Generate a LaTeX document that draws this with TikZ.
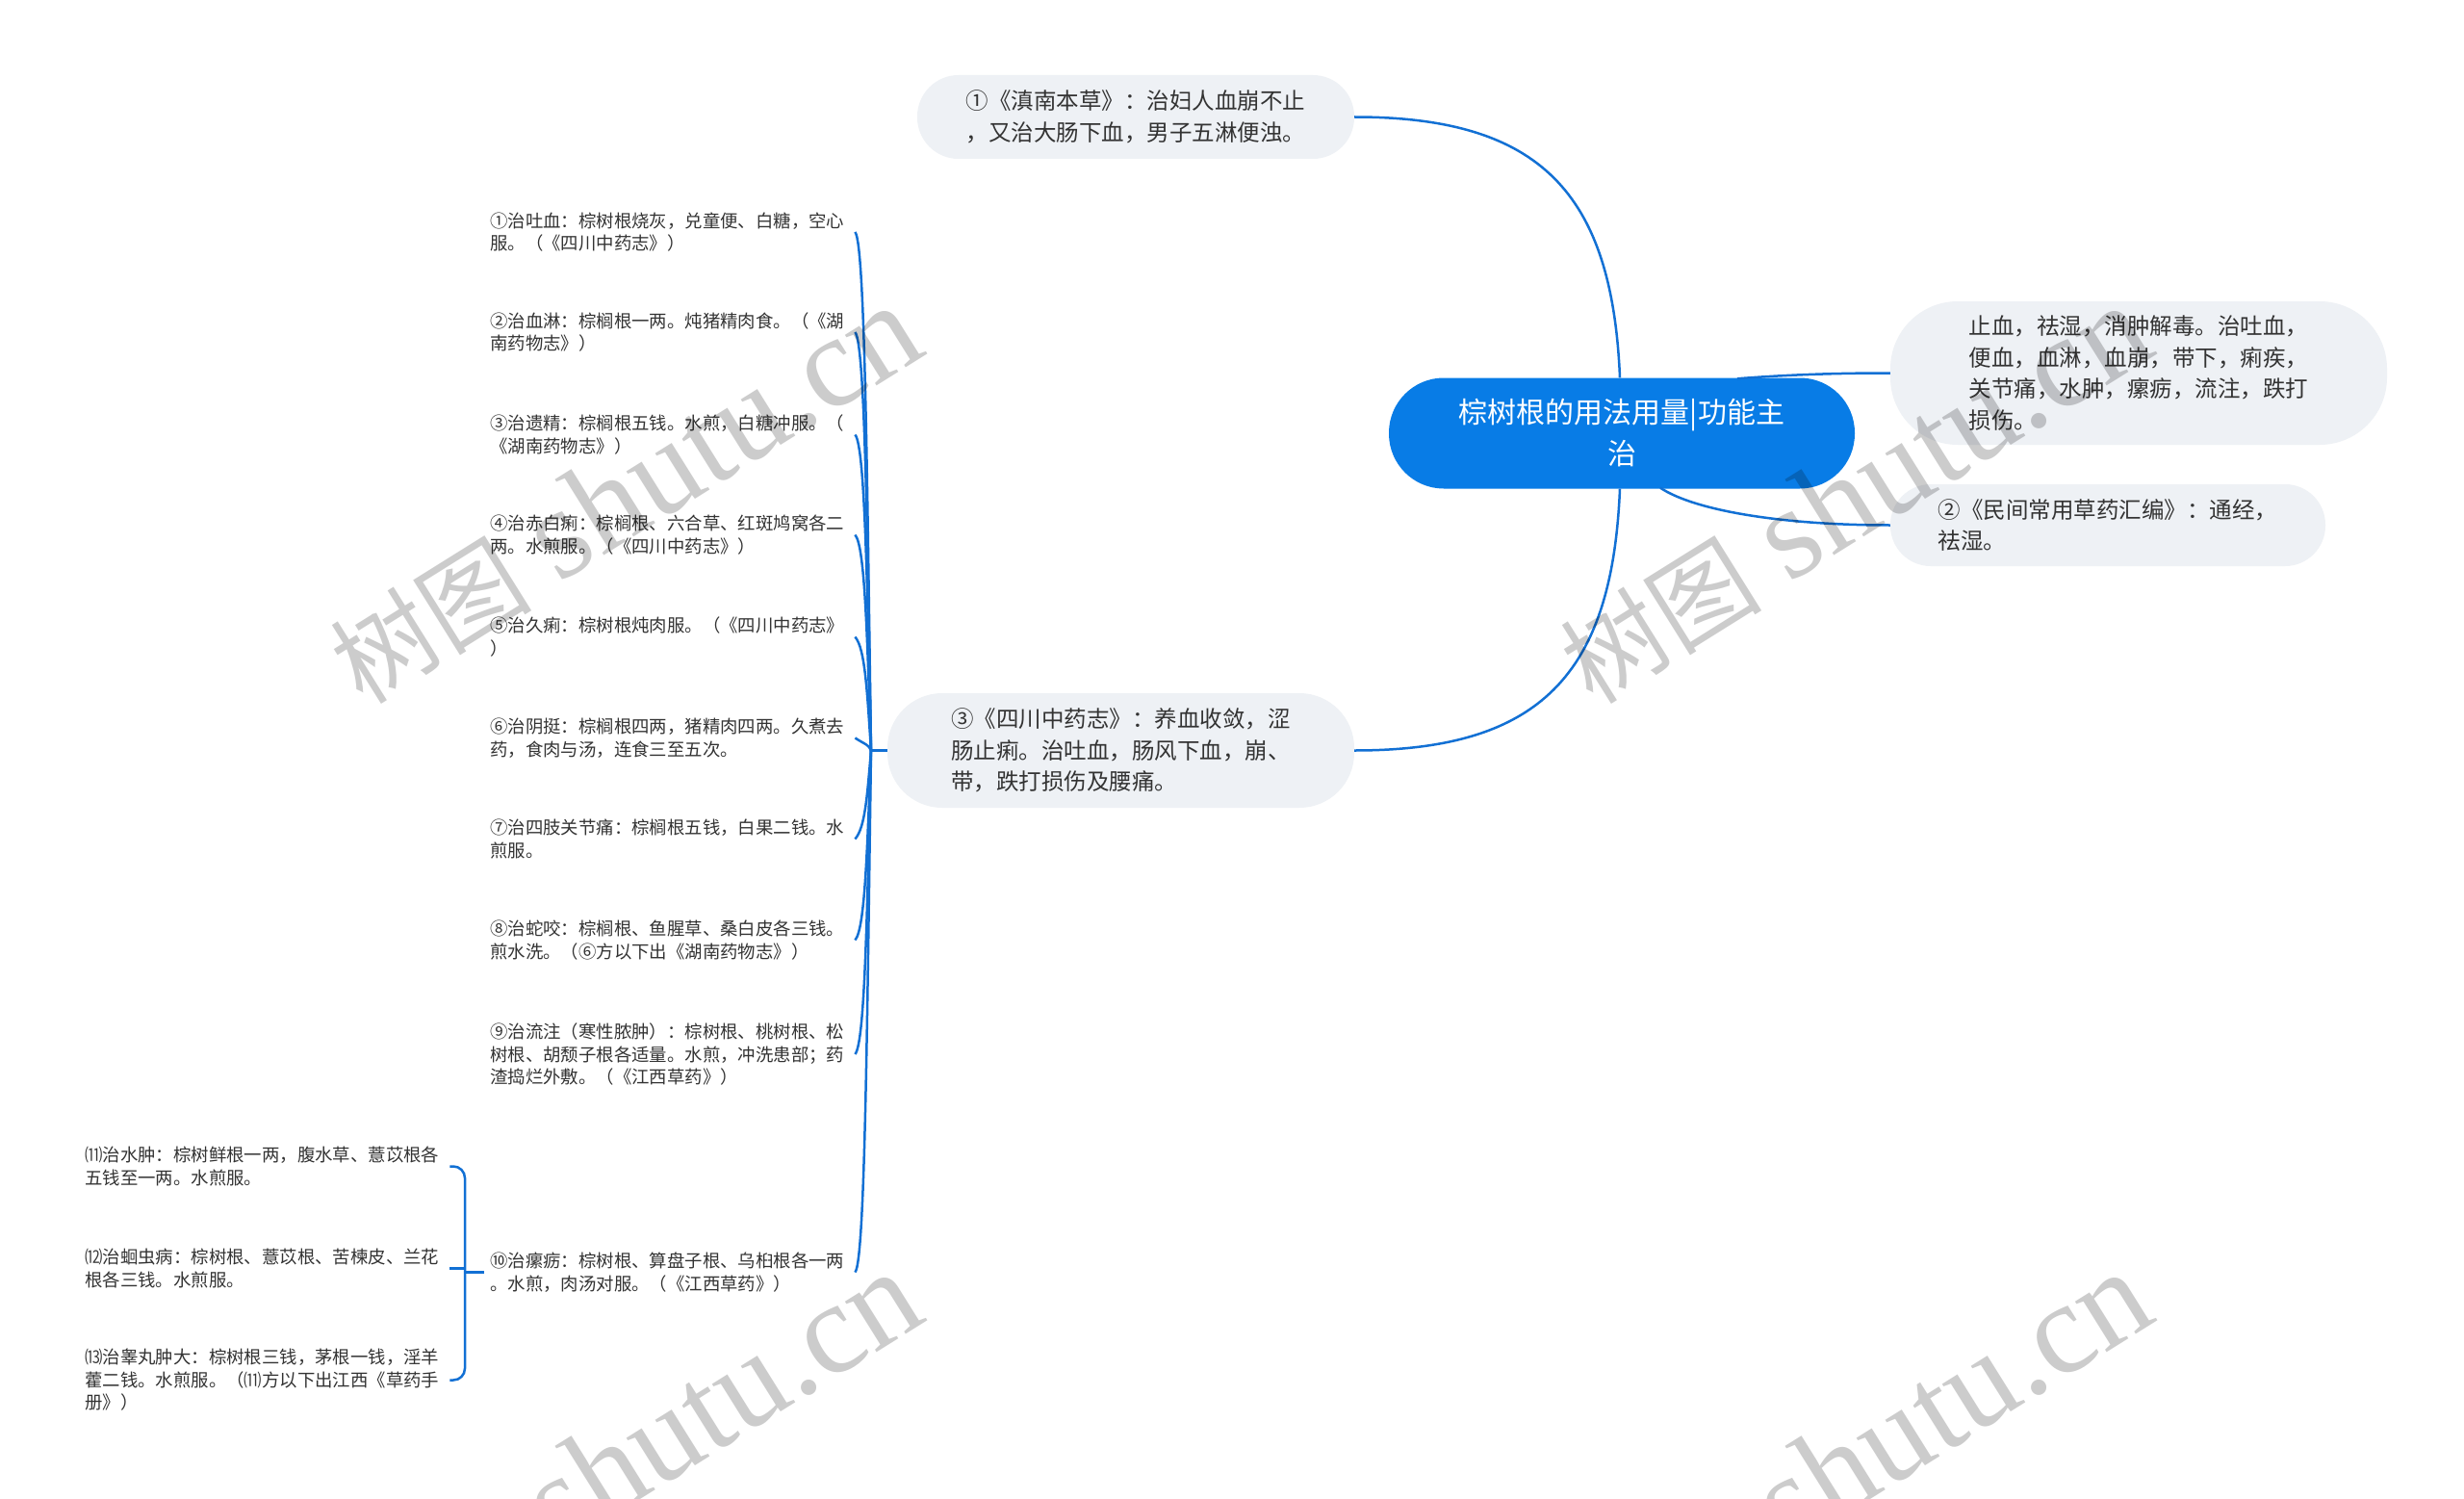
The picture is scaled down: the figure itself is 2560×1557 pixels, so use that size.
\documentclass[tikz,border=0pt]{standalone}
\usepackage{fontspec}
\setmainfont{Noto Sans CJK SC}
\newfontfamily\wmcjk{Noto Sans CJK SC}
\newfontfamily\wmlat{Liberation Serif}
\usetikzlibrary{calc}
\definecolor{linkblue}{RGB}{18,112,212}
\definecolor{rootblue}{RGB}{8,124,230}
\definecolor{boxgray}{RGB}{238,241,245}
\definecolor{txtgray}{RGB}{51,51,51}
\begin{document}
\begin{tikzpicture}[x=1pt,y=-1pt,
  conn/.style={draw=linkblue, line width=2.5pt},
  rootbox/.style={fill=rootblue, text=white, rounded corners=57pt, minimum width=484pt, minimum height=115pt, align=center, inner sep=0pt, font=\fontsize{30}{43}\selectfont},
  midbox/.style={fill=boxgray, text=txtgray, align=left, inner sep=0pt, font=\fontsize{23.5}{32.5}\selectfont},
  leaf/.style={text=txtgray, align=left, inner xsep=6pt, inner ysep=0pt, text width=373pt, anchor=west, font=\fontsize{18.4}{23.5}\selectfont},
  wm/.style={text=black, opacity=0.2, rotate=32, inner sep=0pt}
]
\useasboundingbox[fill=white] (0,0) rectangle (2560,1557);

% main nodes
\node[rootbox] (root) at (1685,450) {棕树根的用法用量|功能主\\治};
\node[midbox, minimum width=454pt, minimum height=87pt, rounded corners=43pt] (b1) at (1180,121.5) {①《滇南本草》：治妇人血崩不止\\，又治大肠下血，男子五淋便浊。};
\node[midbox, minimum width=516pt, minimum height=149pt, rounded corners=70pt] (b2) at (2222,387.5) {止血，祛湿，消肿解毒。治吐血，\\便血，血淋，血崩，带下，痢疾，\\关节痛，水肿，瘰疬，流注，跌打\\损伤。};
\node[midbox, minimum width=452pt, minimum height=85pt, rounded corners=42pt] (b4) at (2190,545.5) {②《民间常用草药汇编》：通经，\\祛湿。};
\node[midbox, minimum width=485pt, minimum height=119pt, rounded corners=57pt] (b3) at (1164.5,779.5) {③《四川中药志》：养血收敛，涩\\肠止痢。治吐血，肠风下血，崩、\\带，跌打损伤及腰痛。};

% leaves
\node[leaf] (l1) at (503,241) {①治吐血：棕树根烧灰，兑童便、白糖，空心\\服。（《四川中药志》）};
\node[leaf] (l2) at (503,345) {②治血淋：棕榈根一两。炖猪精肉食。（《湖\\南药物志》）};
\node[leaf] (l3) at (503,451.5) {③治遗精：棕榈根五钱。水煎，白糖冲服。（\\《湖南药物志》）};
\node[leaf] (l4) at (503,555.5) {④治赤白痢：棕榈根、六合草、红斑鸠窝各二\\两。水煎服。（《四川中药志》）};
\node[leaf] (l5) at (503,661.5) {⑤治久痢：棕树根炖肉服。（《四川中药志》\\）};
\node[leaf] (l6) at (503,766.5) {⑥治阴挺：棕榈根四两，猪精肉四两。久煮去\\药，食肉与汤，连食三至五次。};
\node[leaf] (l7) at (503,871.5) {⑦治四肢关节痛：棕榈根五钱，白果二钱。水\\煎服。};
\node[leaf] (l8) at (503,976.5) {⑧治蛇咬：棕榈根、鱼腥草、桑白皮各三钱。\\煎水洗。（⑥方以下出《湖南药物志》）};
\node[leaf] (l9) at (503,1095) {⑨治流注（寒性脓肿）：棕树根、桃树根、松\\树根、胡颓子根各适量。水煎，冲洗患部；药\\渣捣烂外敷。（《江西草药》）};
\node[leaf] (l10) at (503,1321.5) {⑩治瘰疬：棕树根、算盘子根、乌桕根各一两\\。水煎，肉汤对服。（《江西草药》）};
\node[leaf] (c11) at (82,1211.5) {⑾治水肿：棕树鲜根一两，腹水草、薏苡根各\\五钱至一两。水煎服。};
\node[leaf] (c12) at (82,1317.5) {⑿治蛔虫病：棕树根、薏苡根、苦楝皮、兰花\\根各三钱。水煎服。};
\node[leaf] (c13) at (82,1433.5) {⒀治睾丸肿大：棕树根三钱，茅根一钱，淫羊\\藿二钱。水煎服。（⑾方以下出江西《草药手\\册》）};

% root connectors
\draw[conn] ($(root.north)+(-2,0)$) .. controls (1675,200) and (1600,121.5) .. (b1.east);
\draw[conn] ($(root.south)+(-2,0)$) .. controls (1675,701) and (1600,779.5) .. (b3.east);
\draw[conn] ($(root.north)+(120,1)$) .. controls (1860,389) and (1910,387.5) .. (b2.west);
\draw[conn] ($(root.south)+(40,-1)$) .. controls (1760,530) and (1850,545.5) .. (b4.west);

% trunk to leaves
\coordinate (J) at (905,779.5);
\draw[conn] (b3.west) -- (J);
\draw[conn] (J) .. controls (901,510) and (899,253) .. (l1.east);
\draw[conn] (J) .. controls (901,562) and (899,357) .. (l2.east);
\draw[conn] (J) .. controls (901,615.5) and (899,463.5) .. (l3.east);
\draw[conn] (J) .. controls (901,667.5) and (899,567.5) .. (l4.east);
\draw[conn] (J) .. controls (901,720.5) and (899,673.5) .. (l5.east);
\draw[conn] (J) .. controls (902,773) and (900,774) .. (l6.east);
\draw[conn] (J) .. controls (901,825.5) and (899,859.5) .. (l7.east);
\draw[conn] (J) .. controls (901,878) and (899,964.5) .. (l8.east);
\draw[conn] (J) .. controls (901,937) and (899,1083) .. (l9.east);
\draw[conn] (J) .. controls (901,1050.5) and (899,1309.5) .. (l10.east);

% bracket for sub-leaves
\coordinate (K) at (483,1321.5);
\draw[conn] (l10.west) -- (K);
\draw[conn, rounded corners=12pt] (K) |- (c11.east);
\draw[conn, rounded corners=12pt] (K) |- (c13.east);
\draw[conn] (K) |- (c12.east);

% watermarks
\node[wm] (w1) at (649,514) {{\wmcjk\fontsize{105}{110}\selectfont 树图}\hspace{30pt}{\wmlat\fontsize{135}{140}\selectfont shutu.cn}};
\node[wm] (w2) at (1927,514) {{\wmcjk\fontsize{105}{110}\selectfont 树图}\hspace{30pt}{\wmlat\fontsize{135}{140}\selectfont shutu.cn}};
\node[wm] (w3) at (649,1518) {{\wmcjk\fontsize{105}{110}\selectfont 树图}\hspace{30pt}{\wmlat\fontsize{135}{140}\selectfont shutu.cn}};
\node[wm] (w4) at (1927,1518) {{\wmcjk\fontsize{105}{110}\selectfont 树图}\hspace{30pt}{\wmlat\fontsize{135}{140}\selectfont shutu.cn}};
\end{tikzpicture}
\end{document}
